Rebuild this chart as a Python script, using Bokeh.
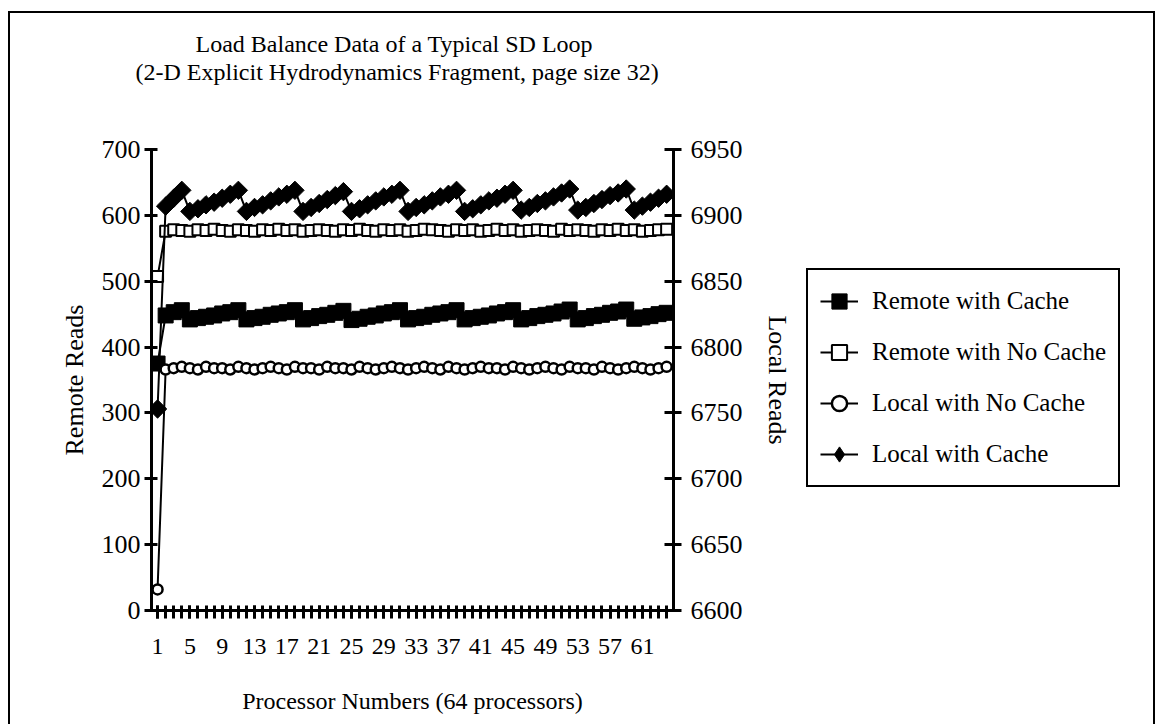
import numpy as np
from bokeh.plotting import figure
from bokeh.layouts import row, column
from bokeh.models import Range1d, LinearAxis, FixedTicker, Legend, LegendItem, Title
from bokeh.embed import file_html
from bokeh.resources import INLINE

processors = list(range(1, 65))
x_tick_labels = [1, 5, 9, 13, 17, 21, 25, 29, 33, 37, 41, 45, 49, 53, 57, 61]
left_ticks = [0, 100, 200, 300, 400, 500, 600, 700]
right_ticks = [6600, 6650, 6700, 6750, 6800, 6850, 6900, 6950]
series_names = ["Remote with Cache", "Remote with No Cache",
                "Local with No Cache", "Local with Cache"]

remote_cache = [375,
    448, 453, 456,
    442, 444, 446, 448, 451, 453, 456,
    442, 444, 446, 449, 451, 453, 456,
    442, 444, 447, 449, 452, 455,
    441, 443, 446, 448, 451, 453, 456,
    442, 444, 446, 449, 451, 453, 456,
    442, 444, 446, 448, 451, 453, 456,
    442, 444, 447, 449, 451, 454, 457,
    442, 444, 447, 449, 452, 454, 457,
    443, 445, 447, 450, 452]

remote_nocache = [507,
    576, 578, 577, 576, 578, 577, 579, 577, 576,
    578, 577, 576, 578, 577, 579, 577, 578, 576,
    577, 578, 577, 576, 578, 577, 579, 577, 576,
    578, 577, 578, 576, 577, 579, 578, 577, 576,
    578, 577, 578, 576, 577, 579, 577, 578, 576,
    577, 578, 577, 576, 579, 577, 578, 577, 576,
    578, 577, 579, 577, 578, 576, 577, 578, 579]

local_nocache = [6616,
    6783, 6784, 6785, 6784, 6783, 6785, 6784, 6784, 6783,
    6785, 6784, 6783, 6784, 6785, 6784, 6783, 6785, 6784,
    6784, 6783, 6785, 6784, 6784, 6783, 6785, 6784, 6783,
    6784, 6785, 6784, 6783, 6784, 6785, 6784, 6783, 6785,
    6784, 6783, 6784, 6785, 6784, 6784, 6783, 6785, 6784,
    6783, 6784, 6785, 6784, 6783, 6785, 6784, 6784, 6783,
    6785, 6784, 6783, 6784, 6785, 6784, 6783, 6784, 6785]

local_cache = [6753,
    6907, 6913, 6919,
    6903, 6905, 6908, 6910, 6913, 6916, 6919,
    6903, 6906, 6908, 6911, 6914, 6916, 6919,
    6903, 6906, 6909, 6912, 6915, 6918,
    6903, 6905, 6908, 6911, 6914, 6916, 6919,
    6903, 6906, 6908, 6911, 6914, 6916, 6919,
    6903, 6905, 6908, 6911, 6913, 6916, 6919,
    6904, 6906, 6909, 6911, 6914, 6917, 6920,
    6904, 6906, 6909, 6912, 6915, 6917, 6920,
    6904, 6907, 6910, 6913, 6916]

FONT = "Liberation Serif"


def blank(fig):
    fig.outline_line_color = None
    fig.background_fill_color = "white"
    fig.border_fill_color = "white"
    fig.xgrid.visible = False
    fig.ygrid.visible = False


# ---- title strip ----
tfig = figure(frame_width=522, frame_height=1, min_border_left=141, min_border_right=480,
              min_border_top=71, min_border_bottom=0,
              x_range=Range1d(0, 1), y_range=Range1d(0, 1),
              output_backend="svg", toolbar_location=None, title=None,
              x_axis_location=None, y_axis_location=None)
blank(tfig)
t2 = Title(text="(2-D Explicit Hydrodynamics Fragment, page size 32)", align="left",
           offset=-16, text_font=FONT, text_font_size="24px", text_font_style="normal",
           text_color="black", standoff=0)
t1 = Title(text="Load Balance Data of a Typical SD Loop", align="left",
           offset=44, text_font=FONT, text_font_size="24px", text_font_style="normal",
           text_color="black", standoff=0)
tfig.add_layout(t2, "above")
tfig.add_layout(t1, "above")

# ---- main plot ----
p = figure(frame_width=522, frame_height=461,
           min_border_left=141, min_border_right=132,
           min_border_top=64, min_border_bottom=114,
           x_range=Range1d(0.25, 64.85), y_range=Range1d(0, 700),
           output_backend="svg", toolbar_location=None, title=None)
p.extra_y_ranges = {"local": Range1d(6600, 6950)}
blank(p)


def style_axis(ax, size):
    ax.axis_line_width = 3
    ax.axis_line_color = "black"
    ax.major_tick_line_width = 3
    ax.minor_tick_line_width = 3
    ax.major_tick_line_color = "black"
    ax.minor_tick_line_color = "black"
    ax.major_label_text_font = FONT
    ax.major_label_text_font_size = size
    ax.major_label_text_color = "black"
    ax.axis_label_text_font = FONT
    ax.axis_label_text_font_size = "26px"
    ax.axis_label_text_font_style = "normal"
    ax.axis_label_text_color = "black"


xa = p.xaxis[0]
style_axis(xa, "24px")
xa.ticker = FixedTicker(ticks=x_tick_labels, minor_ticks=processors)
xa.major_tick_in = 5
xa.major_tick_out = 8
xa.minor_tick_in = 5
xa.minor_tick_out = 8
xa.major_label_standoff = 20
xa.axis_label = "Processor Numbers (64 processors)"
xa.axis_label_text_font_size = "24px"
xa.axis_label_standoff = 31

ya = p.yaxis[0]
style_axis(ya, "26px")
ya.ticker = FixedTicker(ticks=left_ticks, minor_ticks=[])
ya.major_tick_in = 6
ya.major_tick_out = 7
ya.major_label_standoff = 4
ya.axis_label = "Remote Reads"
ya.axis_label_standoff = 10

ra = LinearAxis(y_range_name="local")
style_axis(ra, "26px")
ra.ticker = FixedTicker(ticks=right_ticks, minor_ticks=[])
ra.major_tick_in = 9
ra.major_tick_out = 8
ra.major_label_standoff = 9
ra.axis_label = "Local Reads"
ra.axis_label_standoff = 17
p.add_layout(ra, "right")

p.line(processors, remote_cache, line_width=2, color="black")
p.scatter(processors, remote_cache, marker="square", size=15,
          fill_color="black", line_color="black")
p.line(processors, remote_nocache, line_width=2, color="black")
p.scatter(processors, remote_nocache, marker="square", size=11,
          fill_color="white", line_color="black", line_width=2)
p.line(processors, local_nocache, line_width=2, color="black", y_range_name="local")
p.scatter(processors, local_nocache, marker="circle", size=10,
          fill_color="white", line_color="black", line_width=2.5, y_range_name="local")
p.line(processors, local_cache, line_width=2, color="black", y_range_name="local")
p.scatter(processors, local_cache, marker="square", size=13, angle=np.pi / 4,
          fill_color="black", line_color="black", y_range_name="local")

# ---- legend panel ----
q = figure(width=348, height=639, min_border=0, x_range=Range1d(0, 1), y_range=Range1d(0, 1),
           output_backend="svg", toolbar_location=None, title=None,
           x_axis_location=None, y_axis_location=None)
blank(q)
k1 = q.line(processors, remote_cache, line_width=2, color="black", visible=False)
m1 = q.scatter(processors, remote_cache, marker="square", fill_color="black",
               line_color="black", visible=False)
k2 = q.line(processors, remote_nocache, line_width=2, color="black", visible=False)
m2 = q.scatter(processors, remote_nocache, marker="square", fill_color="white",
               line_color="black", line_width=2, visible=False)
k3 = q.line(processors, local_nocache, line_width=2, color="black", visible=False)
m3 = q.scatter(processors, local_nocache, marker="circle", fill_color="white",
               line_color="black", line_width=2.5, visible=False)
k4 = q.line(processors, local_cache, line_width=2, color="black", visible=False)
m4 = q.scatter(processors, local_cache, marker="diamond", fill_color="black",
               line_color="black", visible=False)

legend = Legend(items=[
    LegendItem(label=series_names[0], renderers=[k1, m1]),
    LegendItem(label=series_names[1], renderers=[k2, m2]),
    LegendItem(label=series_names[2], renderers=[k3, m3]),
    LegendItem(label=series_names[3], renderers=[k4, m4]),
], location=(1, 123), border_line_color="black", border_line_width=2, border_line_alpha=1,
    label_text_font=FONT, label_text_font_size="25px", label_text_color="black",
    glyph_width=38, glyph_height=38, label_height=38, spacing=13, padding=12,
    margin=0, label_standoff=14, background_fill_color="white",
    inactive_fill_alpha=0)
q.add_layout(legend, "center")

lay = column(tfig, row(p, q))
lay.styles = {"margin-left": "8px", "margin-top": "11px",
              "border-top": "2px solid black", "border-left": "2px solid black",
              "border-right": "2px solid black"}

open("out.html", "w").write(file_html(lay, INLINE))
